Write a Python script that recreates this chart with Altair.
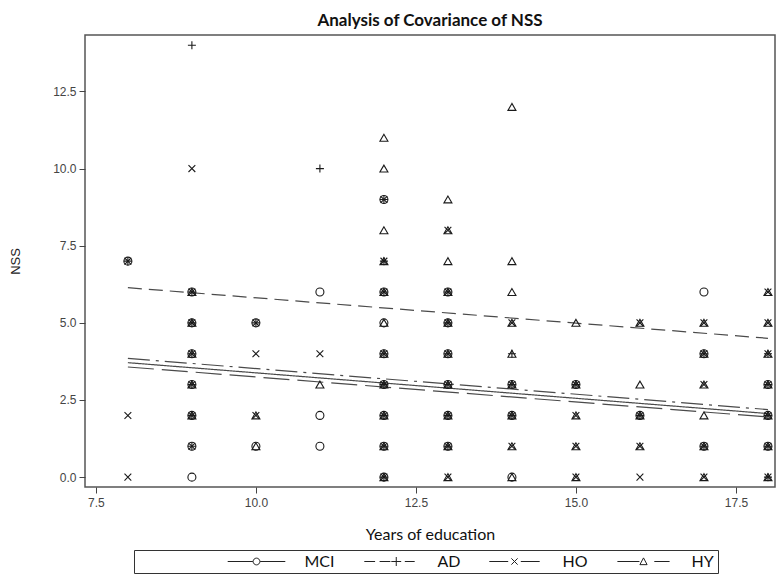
import altair as alt
import pandas as pd

GROUPS = ["MCI", "AD", "HO", "HY"]

MCI_X = [8, 9, 9, 9, 9, 9, 9, 9, 10, 10, 11, 11, 11, 12, 12, 12, 12, 12, 12, 12, 12,
         13, 13, 13, 13, 13, 13, 14, 14, 14, 15, 16, 17, 17, 17, 18, 18, 18]
MCI_Y = [7, 6, 5, 4, 3, 2, 1, 0, 5, 1, 6, 2, 1, 9, 6, 5, 4, 3, 2, 1, 0,
         6, 5, 4, 3, 2, 1, 3, 2, 0, 3, 2, 6, 4, 1, 3, 2, 1]

AD_X = [8, 9, 9, 9, 9, 9, 9, 9, 10, 11, 12, 12, 12, 12, 12, 12, 12, 12,
        13, 13, 13, 13, 13, 13, 14, 14, 14, 15, 16, 17, 17, 18, 18, 18, 18, 18]
AD_Y = [7, 14, 6, 5, 4, 3, 2, 1, 5, 10, 9, 7, 6, 4, 3, 2, 1, 0,
        6, 5, 4, 3, 2, 1, 4, 3, 2, 3, 2, 4, 1, 4, 3, 2, 1, 0]

HO_X = [8, 8, 8, 9, 9, 9, 9, 9, 9, 9, 10, 10, 10, 11, 12, 12, 12, 12, 12, 12, 12, 12,
        13, 13, 13, 13, 13, 13, 13, 13, 14, 14, 14, 14, 15, 15, 15, 15, 16, 16, 16, 16,
        17, 17, 17, 17, 17, 18, 18, 18, 18, 18, 18, 18]
HO_Y = [7, 2, 0, 10, 6, 5, 4, 3, 2, 1, 5, 4, 2, 4, 9, 7, 6, 4, 3, 2, 1, 0,
        8, 6, 5, 4, 3, 2, 1, 0, 5, 3, 2, 1, 3, 2, 1, 0, 5, 2, 1, 0,
        5, 4, 3, 1, 0, 6, 5, 4, 3, 2, 1, 0]

HY_X = [9, 9, 9, 9, 9, 10, 10, 11,
        12, 12, 12, 12, 12, 12, 12, 12, 12, 12, 12,
        13, 13, 13, 13, 13, 13, 13, 13, 13, 13,
        14, 14, 14, 14, 14, 14, 14, 14, 14,
        15, 15, 15, 15, 15, 16, 16, 16, 16,
        17, 17, 17, 17, 17, 17, 18, 18, 18, 18, 18, 18, 18]
HY_Y = [6, 5, 4, 3, 2, 2, 1, 3,
        11, 10, 8, 7, 6, 5, 4, 3, 2, 1, 0,
        9, 8, 7, 6, 5, 4, 3, 2, 1, 0,
        12, 7, 6, 5, 4, 3, 2, 1, 0,
        5, 3, 2, 1, 0, 5, 3, 2, 1,
        5, 4, 3, 2, 1, 0, 6, 5, 4, 3, 2, 1, 0]

# fitted ANCOVA lines (value at 8 and 18 years)
FIT_X = [8, 18]
MCI_FIT = [3.71, 2.06]
AD_FIT = [6.14, 4.50]
HO_FIT = [3.57, 1.95]
HY_FIT = [3.85, 2.19]

X_TICKS = [7.5, 10.0, 12.5, 15.0, 17.5]
Y_TICKS = [0.0, 2.5, 5.0, 7.5, 10.0, 12.5]

pts_rows = []
for g, xs, ys in [("MCI", MCI_X, MCI_Y), ("AD", AD_X, AD_Y), ("HO", HO_X, HO_Y), ("HY", HY_X, HY_Y)]:
    for a, b in zip(xs, ys):
        pts_rows.append({"group": g, "years": a, "nss": b})
pts = pd.DataFrame(pts_rows)

fit_rows = []
for g, ys in [("MCI", MCI_FIT), ("AD", AD_FIT), ("HO", HO_FIT), ("HY", HY_FIT)]:
    for a, b in zip(FIT_X, ys):
        fit_rows.append({"group": g, "years": a, "nss": b})
fit = pd.DataFrame(fit_rows)

leg = pd.DataFrame({"group": GROUPS, "years": [None] * 4, "nss": [None] * 4})

xscale = alt.Scale(domain=[7.33, 18.11], nice=False, zero=False)
yscale = alt.Scale(domain=[-0.32, 14.33], nice=False, zero=False)

xaxis = alt.Axis(values=X_TICKS, format=".1f", title="Years of education", grid=False, domain=False,
                 tickSize=6, tickColor="#444", tickWidth=1, labelFont="Liberation Sans", labelFontSize=12,
                 labelColor="#444", labelPadding=4, titleFont="Lato", titleFontSize=16,
                 titleFontWeight="normal", titleColor="#111", titlePadding=18)
yaxis = alt.Axis(values=Y_TICKS, format=".1f", title="NSS", grid=False, domain=False,
                 tickSize=6, tickColor="#444", tickWidth=1, labelFont="Liberation Sans", labelFontSize=12,
                 labelColor="#444", labelPadding=3, titleFont="Liberation Sans", titleFontSize=13,
                 titleFontWeight="normal", titleColor="#222", titlePadding=30)

PLOT_SHAPES = ["circle", "M-1,0L1,0M0,-1L0,1", "M-0.85,-0.85L0.85,0.85M-0.85,0.85L0.85,-0.85", "triangle-up"]

LEGEND_SHAPES = [
    "M-6.4,0L-0.8,0M0.8,0L6.4,0M-0.75,0A0.75,0.75 0 1,0 0.75,0A0.75,0.75 0 1,0 -0.75,0",
    "M-5.6,0L-3.2,0M-2.2,0L0.2,0M0.4,0L2.6,0M1.5,-1L1.5,1M3.4,0L5.6,0",
    "M-5.6,0L-1.4,0M-0.7,-0.7L0.7,0.7M-0.7,0.7L0.7,-0.7M1.4,0L5.6,0",
    "M-5.8,0L-0.9,0M-0.8,0.7L0,-0.8L0.8,0.7Z M2.4,0L5.8,0",
]

points = alt.Chart(pts).mark_point(filled=False, size=64, strokeWidth=1.1, color="#1a1a1a", opacity=1).encode(
    x=alt.X("years:Q", scale=xscale, axis=xaxis),
    y=alt.Y("nss:Q", scale=yscale, axis=yaxis),
    shape=alt.Shape("group:N", scale=alt.Scale(domain=GROUPS, range=PLOT_SHAPES), legend=None),
)

lines = alt.Chart(fit).mark_line(color="#4a4a4a", strokeWidth=1.2).encode(
    x=alt.X("years:Q", scale=xscale),
    y=alt.Y("nss:Q", scale=yscale),
    strokeDash=alt.StrokeDash("group:N", scale=alt.Scale(domain=GROUPS, range=[[1, 0], [14, 7], [26, 8], [22, 6, 3, 6]]), legend=None),
)

legend_layer = alt.Chart(leg).mark_point(filled=False, size=81, strokeWidth=1, color="#222", opacity=1).encode(
    x=alt.X("years:Q", scale=xscale),
    y=alt.Y("nss:Q", scale=yscale),
    shape=alt.Shape("group:N", scale=alt.Scale(domain=GROUPS, range=LEGEND_SHAPES),
                    legend=alt.Legend(orient="none", legendX=49, legendY=515, direction="horizontal", columns=4,
                                      title=" ", titleOrient="left", titlePadding=111,
                                      labelFont="Lato", labelFontSize=16, labelColor="#111",
                                      labelOffset=40, columnPadding=26, symbolSize=81,
                                      symbolStrokeWidth=1, symbolStrokeColor="#222",
                                      symbolFillColor="transparent", strokeColor="#333", padding=3.5)),
)

chart = alt.layer(lines, points, legend_layer).resolve_scale(shape="independent").properties(
    width=690, height=452,
    autosize=alt.AutoSizeParams(type="none"),
    padding={"left": 77, "top": 27, "right": 1, "bottom": 87},
    title=alt.Title("Analysis of Covariance of NSS", font="Lato", fontSize=17, fontWeight="bold",
                    color="#111", anchor="middle", frame="group", offset=5),
).configure_view(stroke="#555", strokeWidth=1.5)

chart.save("out.html", embed_options={"renderer": "svg", "actions": False})
